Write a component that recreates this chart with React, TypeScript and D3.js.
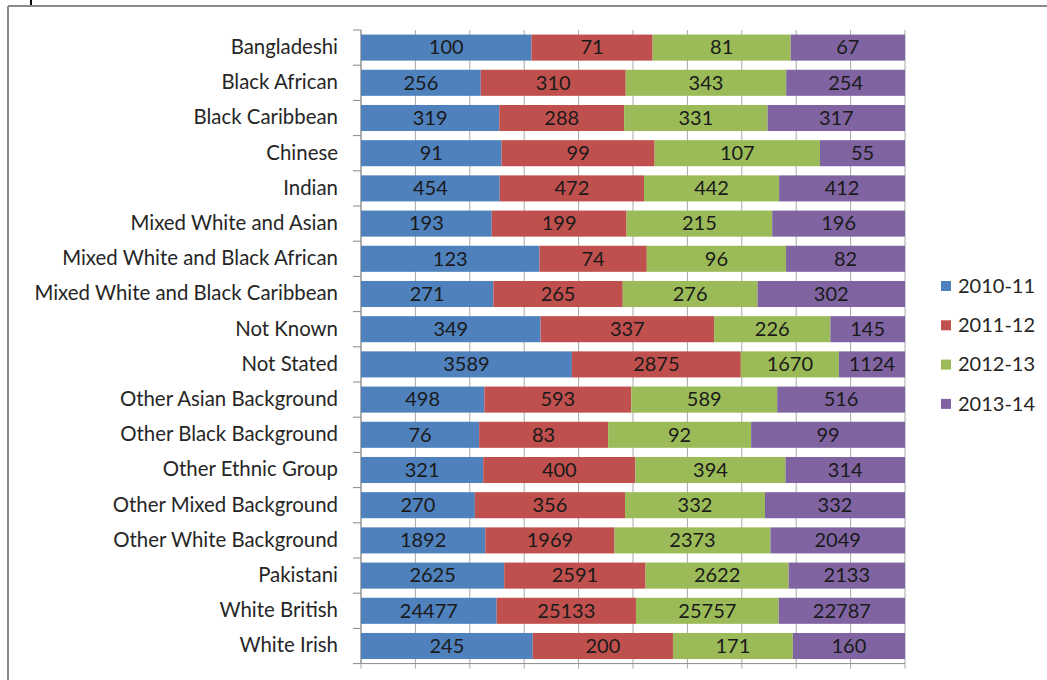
import React from "react";
import * as d3 from "d3";

const categories = [
  "Bangladeshi",
  "Black African",
  "Black Caribbean",
  "Chinese",
  "Indian",
  "Mixed White and Asian",
  "Mixed White and Black African",
  "Mixed White and Black Caribbean",
  "Not Known",
  "Not Stated",
  "Other Asian Background",
  "Other Black Background",
  "Other Ethnic Group",
  "Other Mixed Background",
  "Other White Background",
  "Pakistani",
  "White British",
  "White Irish",
];
const seriesNames = ["2010-11", "2011-12", "2012-13", "2013-14"];
const s2010 = [100, 256, 319, 91, 454, 193, 123, 271, 349, 3589, 498, 76, 321, 270, 1892, 2625, 24477, 245];
const s2011 = [71, 310, 288, 99, 472, 199, 74, 265, 337, 2875, 593, 83, 400, 356, 1969, 2591, 25133, 200];
const s2012 = [81, 343, 331, 107, 442, 215, 96, 276, 226, 1670, 589, 92, 394, 332, 2373, 2622, 25757, 171];
const s2013 = [67, 254, 317, 55, 412, 196, 82, 302, 145, 1124, 516, 99, 314, 332, 2049, 2133, 22787, 160];
const colors = ["#4F81BD", "#C0504D", "#9BBB59", "#8064A2"];
const gridTicks = [0, 0.1, 0.2, 0.3, 0.4, 0.5, 0.6, 0.7, 0.8, 0.9, 1];

const W = 1047;
const H = 680;
const FONT = "Lato, 'Open Sans', sans-serif";

export default function App() {
  const allSeries = [s2010, s2011, s2012, s2013];
  const rows = categories.map((c, i) => {
    const o: any = { cat: c };
    seriesNames.forEach((s, k) => (o[s] = allSeries[k][i]));
    return o;
  });
  const stack = d3.stack<any>().keys(seriesNames).offset(d3.stackOffsetExpand);
  const stacked = stack(rows);

  const plotLeft = 361;
  const plotRight = 905;
  const plotTop = 30;
  const plotBottom = 663.6;

  const x = d3.scaleLinear().domain([0, 1]).range([plotLeft, plotRight]);
  const y = d3
    .scaleBand<string>()
    .domain(categories)
    .range([plotTop, plotBottom])
    .paddingInner(0.26)
    .paddingOuter(0.13);
  const step = y.step();

  return (
    <svg
      width={W}
      height={H}
      style={{ position: "absolute", left: 0, top: 0, background: "#fff" }}
      fontFamily={FONT}
    >
      <rect x={0} y={0} width={W} height={H} fill="#fff" />
      {/* outer frame */}
      <line x1={8} y1={6} x2={W} y2={6} stroke="#8a8a8a" strokeWidth={2} />
      <line x1={8} y1={6} x2={8} y2={H} stroke="#8a8a8a" strokeWidth={2} />
      <line x1={31} y1={0} x2={31} y2={5} stroke="#000" strokeWidth={2} />

      {/* vertical gridlines */}
      {gridTicks.map((t) => (
        <line
          key={"g" + t}
          x1={x(t)}
          x2={x(t)}
          y1={plotTop}
          y2={plotBottom + 5}
          stroke="#a8a8a8"
          strokeWidth={1}
        />
      ))}
      {/* bottom axis */}
      <line x1={plotLeft} x2={plotRight} y1={plotBottom} y2={plotBottom} stroke="#8a8a8a" strokeWidth={1} />

      {/* left axis with category boundary ticks */}
      <line x1={plotLeft} x2={plotLeft} y1={plotTop} y2={plotBottom} stroke="#8a8a8a" strokeWidth={1} />
      {d3.range(categories.length + 1).map((i) => (
        <line
          key={"t" + i}
          x1={plotLeft - 8}
          x2={plotLeft}
          y1={plotTop + i * step}
          y2={plotTop + i * step}
          stroke="#8a8a8a"
          strokeWidth={1}
        />
      ))}

      {/* bars */}
      {stacked.map((layer, k) => (
        <g key={layer.key} fill={colors[k]}>
          {layer.map((d, i) => (
            <rect
              key={i}
              x={x(d[0])}
              y={y(categories[i])}
              width={x(d[1]) - x(d[0])}
              height={y.bandwidth()}
            />
          ))}
        </g>
      ))}

      {/* data labels */}
      {stacked.map((layer, k) => (
        <g key={"l" + layer.key} fontSize={20} fill="#1a1a1a" textAnchor="middle">
          {layer.map((d, i) => (
            <text
              key={i}
              x={(x(d[0]) + x(d[1])) / 2}
              y={(y(categories[i]) as number) + y.bandwidth() / 2}
              dy="0.34em"
            >
              {allSeries[k][i]}
            </text>
          ))}
        </g>
      ))}

      {/* category labels */}
      <g fontSize={20.4} fill="#262626" textAnchor="end">
        {categories.map((c) => (
          <text key={c} x={338} y={(y(c) as number) + y.bandwidth() / 2} dy="0.31em">
            {c}
          </text>
        ))}
      </g>

      {/* legend */}
      <g fontSize={20} fill="#262626">
        {seriesNames.map((s, k) => (
          <g key={s} transform={`translate(941, ${286 + k * 39.3})`}>
            <rect x={0} y={-5} width={10} height={10} fill={colors[k]} />
            <text x={17} y={0} dy="0.34em">
              {s}
            </text>
          </g>
        ))}
      </g>
    </svg>
  );
}
